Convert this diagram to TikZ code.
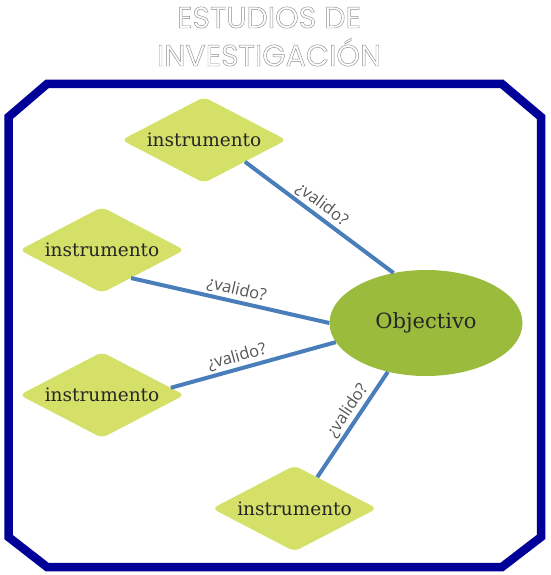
\documentclass[tikz,border=0pt]{standalone}
\usepackage{fontspec}
\usepackage{xcolor}
\usetikzlibrary{shapes.geometric}

\newfontfamily\titlefont{Poppins}
\newfontfamily\labelfont{Open Sans}
\newfontfamily\boxfont{DejaVu Serif}
% outlined letters for the heading
\newcommand{\outlined}[1]{\special{pdf:code 1 Tr 0.45 w}#1\special{pdf:code 0 Tr}}

\definecolor{framenavy}{RGB}{0,0,153}
\definecolor{diamondgreen}{RGB}{212,224,104}
\definecolor{ovalgreen}{RGB}{155,187,60}
\definecolor{linkblue}{RGB}{74,126,187}
\definecolor{labelgray}{RGB}{85,85,85}
\definecolor{titlegray}{RGB}{140,140,140}

\begin{document}
\begin{tikzpicture}[
        x=1pt, y=-1pt,
        instr/.style={diamond, aspect=1.92, fill=diamondgreen, rounded corners=6pt,
            minimum width=165pt, minimum height=86pt, inner sep=0pt,
            text=black!85, font=\boxfont\fontsize{18.5}{22}\selectfont},
        objective/.style={ellipse, fill=ovalgreen, minimum width=193pt,
            minimum height=106pt, inner sep=0pt,
            text=black!85, font=\boxfont\fontsize{21}{25}\selectfont},
        link/.style={draw=linkblue, line width=4pt},
        valid/.style={sloped, above, inner sep=2pt, text=labelgray,
            font=\labelfont\fontsize{16.5}{20}\selectfont},
        heading/.style={anchor=base, text=titlegray,
            font=\titlefont\fontsize{30}{34}\selectfont}]

        \useasboundingbox (0,0) rectangle (550,575);

        % TITLE
        \node[heading] (title1) at (269,28) {\outlined{ESTUDIOS DE}};
        \node[heading] (title2) at (269,66) {\outlined{INVESTIGACIÓN}};

        % FRAME
        \draw[framenavy, line width=8.5pt] (47,84) -- (502,84) -- (541,117)
            -- (541,537) -- (502,567) -- (47,567) -- (8.5,537) -- (8.5,117) -- cycle;

        % NODES
        % objective
        \node[objective] (obj) at (426,323) {Objectivo};
        % instruments
        \node[instr] (d1) at (204,140) {instrumento};
        \node[instr] (d2) at (102,250) {instrumento};
        \node[instr] (d3) at (102,395) {instrumento};
        \node[instr] (d4) at (294.5,508.5) {instrumento};

        % LINKS
        \draw[link] (d1.-28) -- node[valid, pos=0.47] {¿valido?} (obj.123);
        \draw[link] (d2.-44) -- node[valid, pos=0.52] {¿valido?} (obj.west);
        \draw[link] (d3.6) -- node[valid, pos=0.42] {¿valido?} (obj.192);
        \draw[link] (d4.54) -- node[valid, pos=0.57] {¿valido?} (obj.232);
\end{tikzpicture}
\end{document}
